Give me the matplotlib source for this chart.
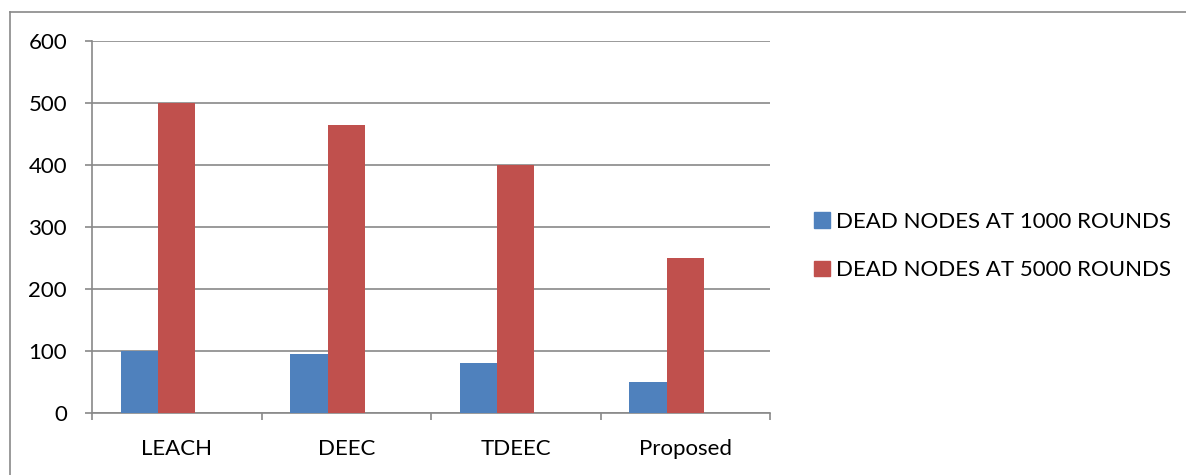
import numpy as np
import matplotlib
matplotlib.use("Agg")
import matplotlib.pyplot as plt
from matplotlib.lines import Line2D
from matplotlib.patches import Patch

protocols = ["LEACH", "DEEC", "TDEEC", "Proposed"]
dead_1000 = [100, 95, 80, 50]
dead_5000 = [500, 465, 400, 250]
series_labels = ["DEAD NODES AT 1000 ROUNDS", "DEAD NODES AT 5000 ROUNDS"]
y_ticks = [0, 100, 200, 300, 400, 500, 600]

BLUE = "#4F81BD"
RED = "#C0504D"
GREY = "#898989"

plt.rcParams["font.family"] = ["Lato", "DejaVu Sans"]

W, H = 1186, 475
fig = plt.figure(figsize=(W / 100, H / 100), dpi=100)

# chart frame (only top and left edges fall inside the canvas)
fig.add_artist(Line2D([10 / W, 10 / W], [0, 1 - 12 / H], transform=fig.transFigure,
                      color=GREY, lw=1.2))
fig.add_artist(Line2D([10 / W, 1], [1 - 12 / H, 1 - 12 / H], transform=fig.transFigure,
                      color=GREY, lw=1.2))

ax = fig.add_axes([92 / W, 1 - 413 / H, (770 - 92) / W, (413 - 41) / H])

x = np.arange(len(protocols))
bw = 0.22
# pair sits left of centre, 5000-round bar on the category centre
ax.bar(x - bw, dead_1000, bw, color=BLUE, label=series_labels[0], zorder=3)
ax.bar(x, dead_5000, bw, color=RED, label=series_labels[1], zorder=3)

ax.set_xlim(-0.5, len(protocols) - 0.5)
ax.set_ylim(0, 600)
ax.set_yticks(y_ticks)
ax.yaxis.grid(True, color=GREY, lw=1.2, zorder=0)
ax.set_axisbelow(True)

for side in ["top", "right"]:
    ax.spines[side].set_visible(False)
for side in ["left", "bottom"]:
    ax.spines[side].set_color(GREY)
    ax.spines[side].set_linewidth(1.2)

# category boundaries carry the tick marks, names sit between them
ax.set_xticks(np.arange(-0.5, len(protocols)), minor=False)
ax.set_xticklabels([])
ax.set_xticks(x, minor=True)
ax.set_xticklabels(protocols, minor=True)
ax.tick_params(axis="x", which="major", length=5, width=1.2, color=GREY)
ax.tick_params(axis="x", which="minor", length=0, pad=19, labelsize=16)
ax.tick_params(axis="y", length=5, width=1.2, color=GREY, pad=13, labelsize=16)

handles = [Patch(color=BLUE), Patch(color=RED)]
fig.legend(handles, series_labels, loc="center left",
           bbox_to_anchor=(794 / W, 1 - 246 / H), frameon=False,
           fontsize=16, handlelength=0.7, handleheight=0.7,
           handletextpad=0.3, labelspacing=1.3)

fig.savefig("out.png", dpi=100)
